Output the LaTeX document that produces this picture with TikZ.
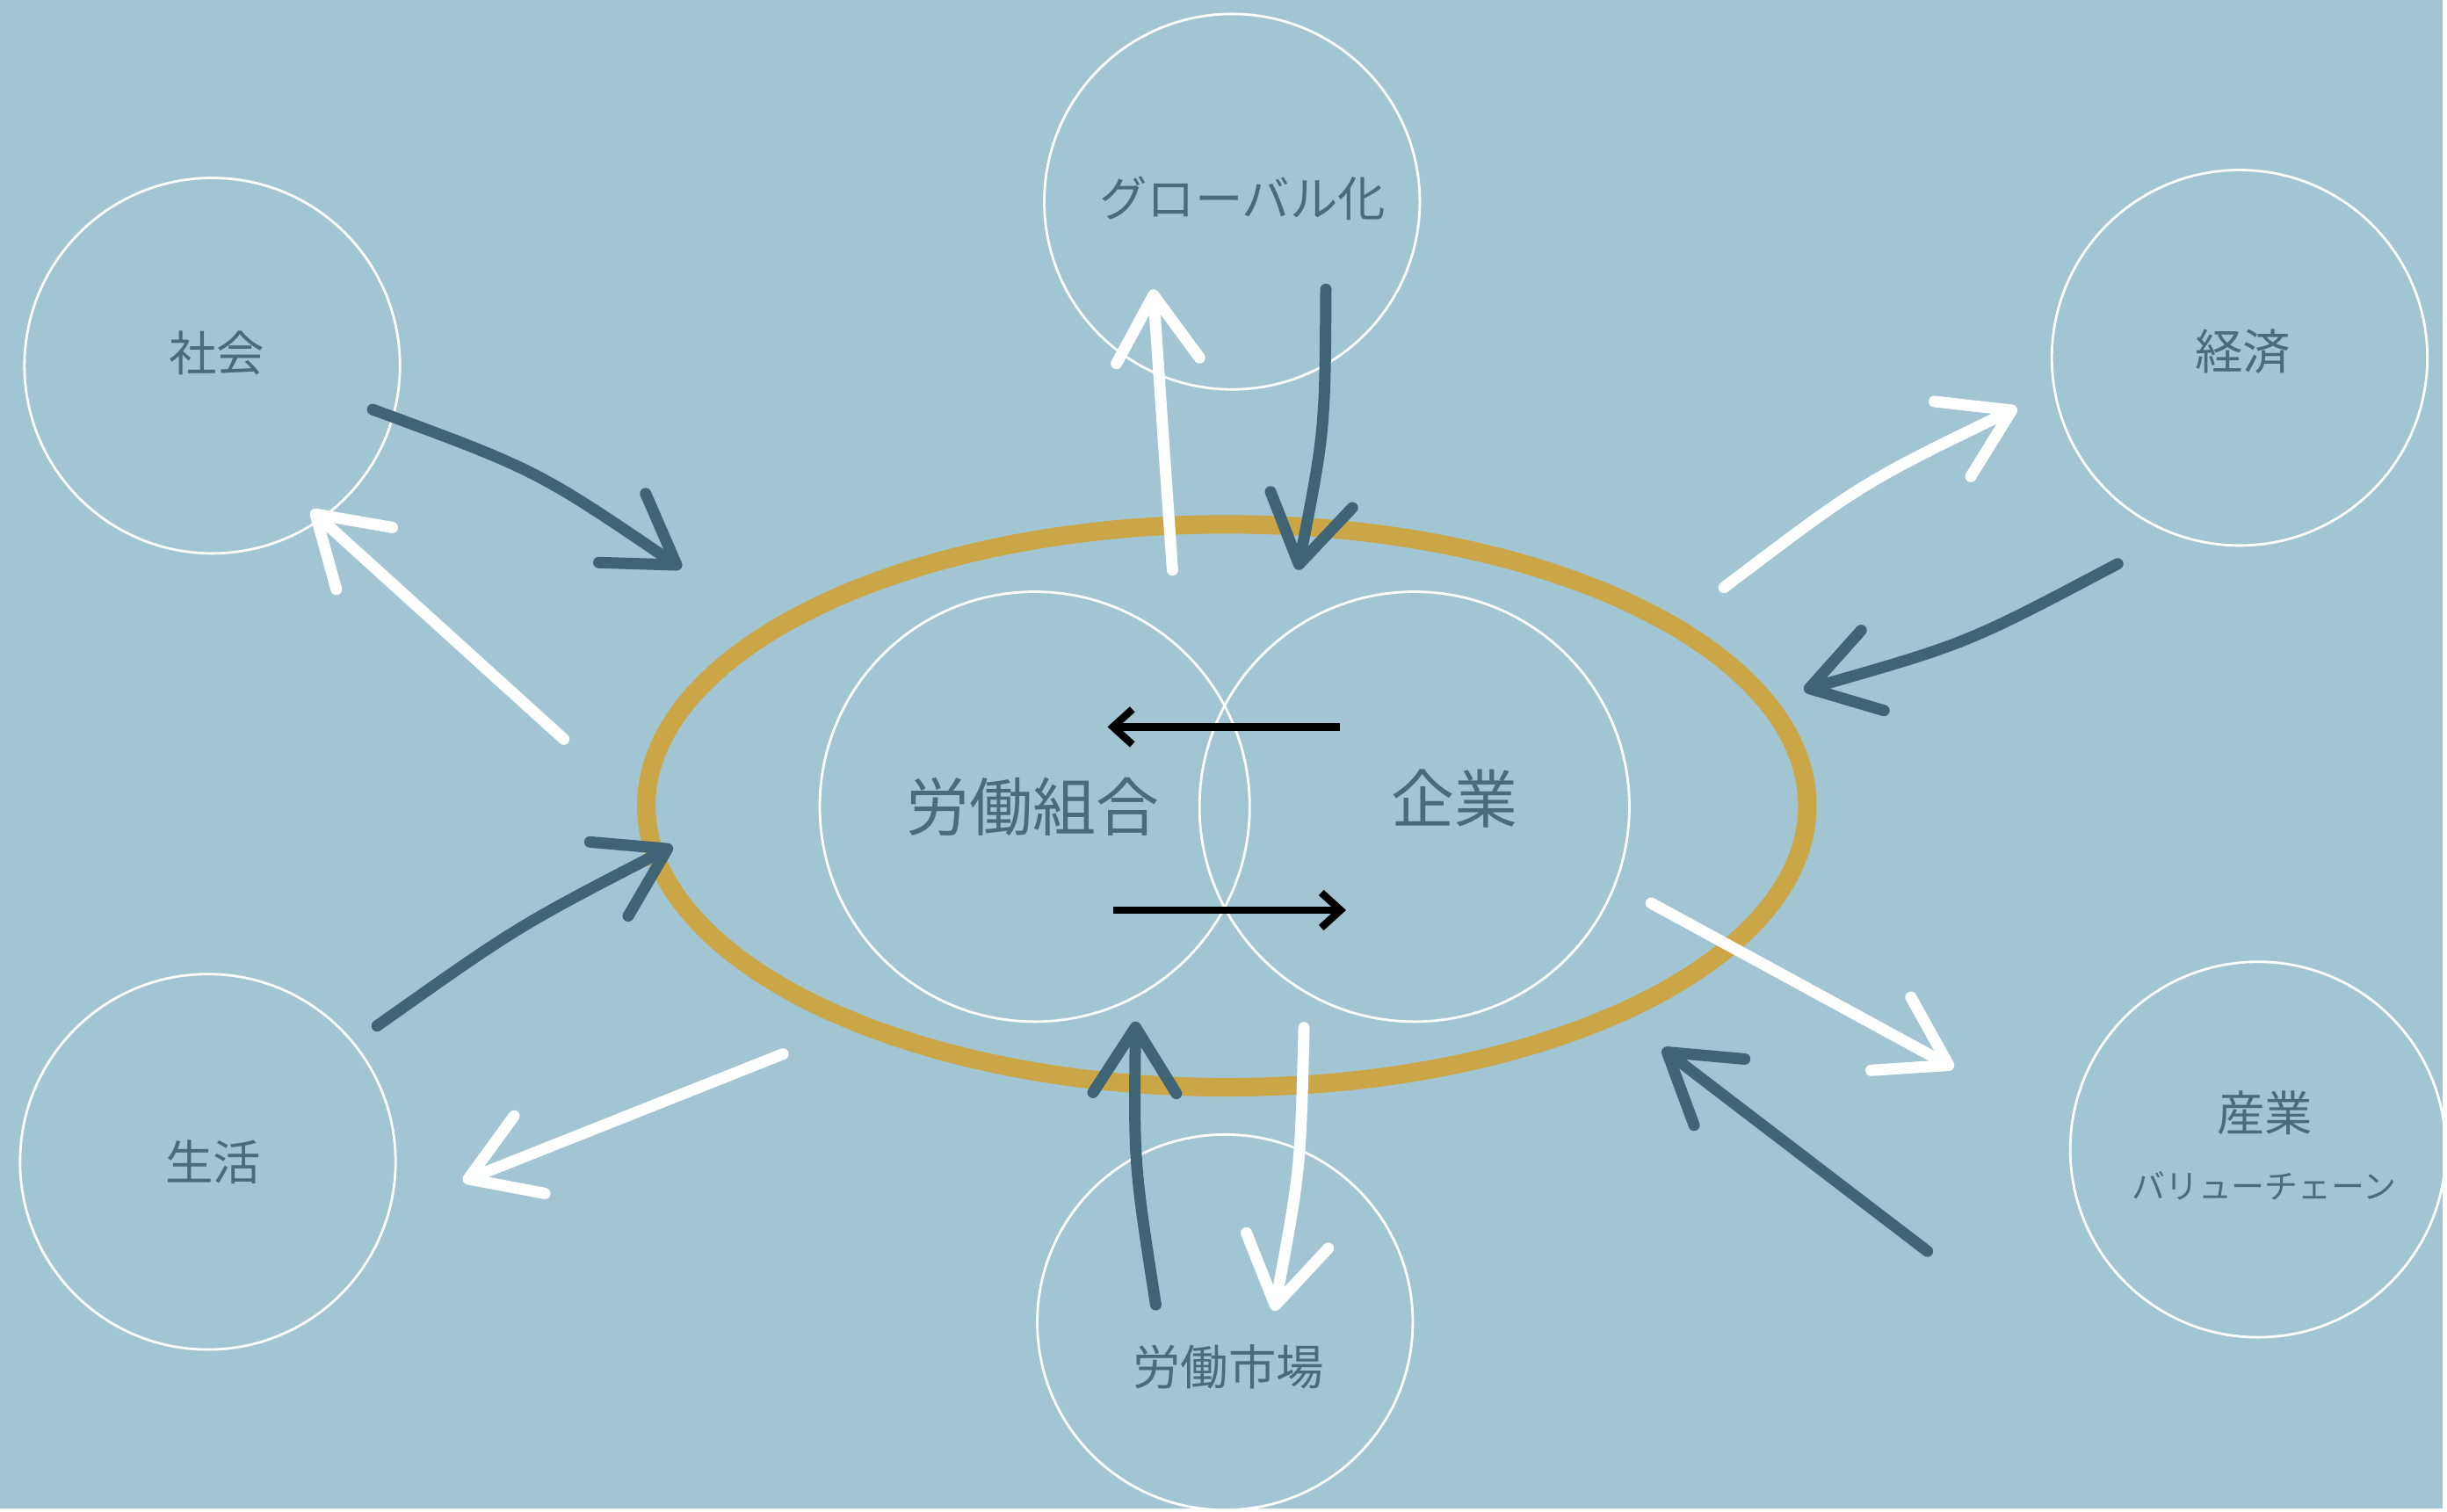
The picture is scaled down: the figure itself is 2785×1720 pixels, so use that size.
\documentclass[tikz,border=0pt]{standalone}
\usepackage{fontspec}
\setmainfont{Noto Sans CJK JP}
\usetikzlibrary{arrows.meta}

\definecolor{bgblue}{HTML}{A1C5D3}
\definecolor{slate}{HTML}{3F6475}
\definecolor{labeltext}{HTML}{4A6B7B}
\definecolor{ochre}{HTML}{CBA646}

\begin{document}
\begin{tikzpicture} [x=0.01cm, y=-0.01cm,
                every node/.style={text=labeltext, inner sep=0pt},
                ring_style/.style={circle, draw=white, line width=0.8pt, minimum size=4.28cm},
                edge_style/.style={line width=3.7pt, line cap=round, -{Straight Barb[length=7.5mm, width=9.5mm, round]}}]
                \tikzset{dark edge/.style={edge_style, draw=slate}}
                \tikzset{white edge/.style={edge_style, draw=white}}
                \tikzset{black edge/.style={line width=2.4pt, draw=black, -{Straight Barb[length=2.2mm, width=4mm]}}}
                \tikzset{outer label/.style={font=\fontsize{15.5pt}{18pt}\selectfont}}
                \tikzset{inner label/.style={font=\fontsize{20.5pt}{24pt}\selectfont}}
                \fill [bgblue] (0,0) rectangle (2785,1720);
                % outer circles
                \node [ring_style] (v1) at (242,417) {};
                \node [ring_style] (v2) at (1405,230) {};
                \node [ring_style] (v3) at (2554,408) {};
                \node [ring_style] (v4) at (237,1325) {};
                \node [ring_style] (v5) at (1397,1508) {};
                \node [ring_style] (v6) at (2575,1311) {};
                % union and company
                \node [ring_style, minimum size=4.9cm] (u1) at (1180,920) {};
                \node [ring_style, minimum size=4.9cm] (u2) at (1613,920) {};
                \coordinate (o) at (1399,919);
                \draw [ochre, line width=6pt] (o) ellipse [x radius=662, y radius=321];
                % arrow ends
                \coordinate (s1) at (425,467);   \coordinate (e1) at (777,648);
                \coordinate (s2) at (643,843);   \coordinate (e2) at (355,582);
                \coordinate (s3) at (1337,650);  \coordinate (e3) at (1315,330);
                \coordinate (s4) at (1512,330);  \coordinate (e4) at (1480,650);
                \coordinate (s5) at (1966,670);  \coordinate (e5) at (2300,465);
                \coordinate (s6) at (2415,643);  \coordinate (e6) at (2057,787);
                \coordinate (s7) at (1883,1030); \coordinate (e7) at (2228,1218);
                \coordinate (s8) at (2198,1427); \coordinate (e8) at (1896,1196);
                \coordinate (s9) at (1487,1172); \coordinate (e9) at (1453,1495);
                \coordinate (s10) at (1318,1488); \coordinate (e10) at (1295,1165);
                \coordinate (s11) at (893,1202); \coordinate (e11) at (528,1347);
                \coordinate (s12) at (430,1170); \coordinate (e12) at (767,965);
                \coordinate (s13) at (1528,829); \coordinate (e13) at (1263,829);
                \coordinate (s14) at (1270,1038); \coordinate (e14) at (1535,1038);
                \draw [dark edge] (s1) .. controls (612,536) .. (e1);
                \draw [white edge] (s2) -- (e2);
                \draw [white edge] (s3) -- (e3);
                \draw [dark edge] (s4) .. controls (1511,491) .. (e4);
                \draw [white edge] (s5) .. controls (2123,551) .. (e5);
                \draw [dark edge] (s6) .. controls (2243,734) .. (e6);
                \draw [white edge] (s7) -- (e7);
                \draw [dark edge] (s8) -- (e8);
                \draw [white edge] (s9) .. controls (1483,1335) .. (e9);
                \draw [dark edge] (s10) .. controls (1293,1327) .. (e10);
                \draw [white edge] (s11) -- (e11);
                \draw [dark edge] (s12) .. controls (591,1056) .. (e12);
                \draw [black edge] (s13) -- (e13);
                \draw [black edge] (s14) -- (e14);
                % labels
                \node [outer label] (l1) at (247,403) {社会};
                \node [outer label] (l2) at (1417,226) {グローバル化};
                \node [outer label] (l3) at (2558,401) {経済};
                \node [outer label] (l4) at (243,1325) {生活};
                \node [outer label] (l5) at (1401,1559) {労働市場};
                \node [outer label] (l6) at (2583,1269) {産業};
                \node [font=\fontsize{10.8pt}{13pt}\selectfont] (l7) at (2582,1352) {バリューチェーン};
                \node [inner label] (l8) at (1178,920) {労働組合};
                \node [inner label] (l9) at (1659,911) {企業};
\end{tikzpicture}
\end{document}
